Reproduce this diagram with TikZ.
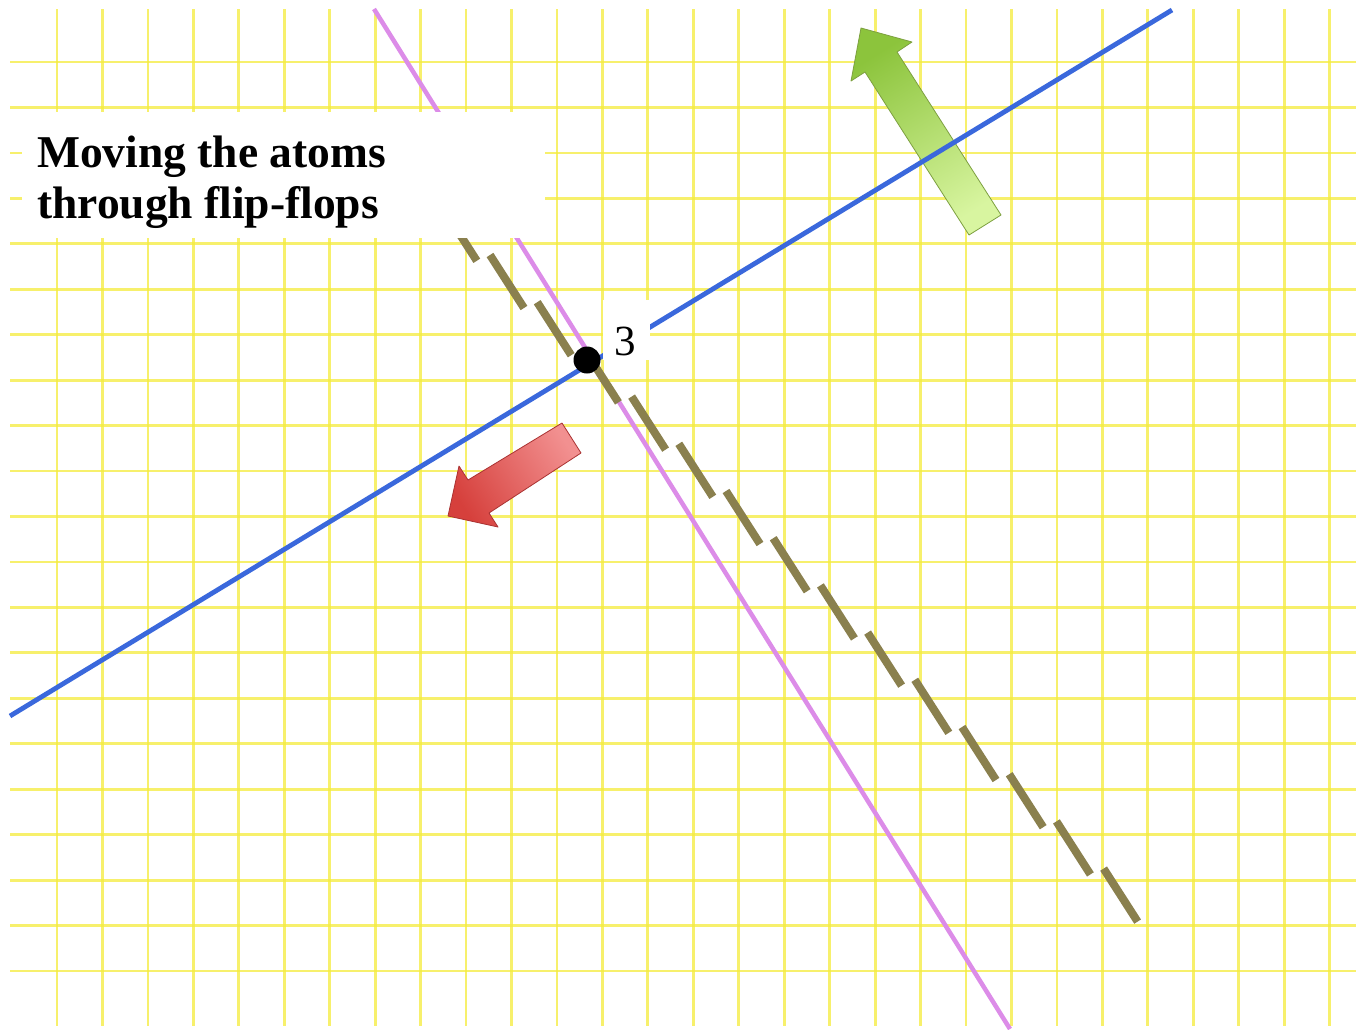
\documentclass[tikz,border=0pt]{standalone}
\usepackage{fontspec}
\setmainfont{Liberation Serif}
\definecolor{gridyellow}{RGB}{245,236,60}
\definecolor{lineblue}{RGB}{58,104,220}
\definecolor{linepink}{RGB}{220,140,232}
\definecolor{dasholive}{RGB}{138,128,78}
\definecolor{greendark}{RGB}{140,196,60}
\definecolor{greenlight}{RGB}{216,245,160}
\definecolor{greenedge}{RGB}{125,160,64}
\definecolor{reddark}{RGB}{214,64,60}
\definecolor{redlight}{RGB}{242,144,144}
\definecolor{rededge}{RGB}{170,50,50}
\begin{document}
\begin{tikzpicture}[x=1pt,y=-1pt,
  gridline/.style={draw=gridyellow, line width=2.8pt, opacity=0.75},
  blueline/.style={draw=lineblue, line width=4.8pt},
  pinkline/.style={draw=linepink, line width=4.5pt},
  dashseg/.style={draw=dasholive, line width=8pt, line cap=butt},
  greenarrow/.style={draw=greenedge, line width=0.8pt, line join=round, top color=greendark, bottom color=greenlight, shading angle=32},
  redarrow/.style={draw=rededge, line width=0.8pt, line join=round, top color=reddark, bottom color=redlight, shading angle=122},
  whitebox/.style={fill=white, draw=none, inner sep=0pt},
  titletext/.style={font=\fontsize{45.5}{50}\selectfont\bfseries, inner sep=0pt, anchor=base west},
  labeltext/.style={font=\fontsize{43}{48}\selectfont, inner sep=0pt, anchor=base}
]
\useasboundingbox (0,0) rectangle (1362,1029);
\fill[white] (0,0) rectangle (1362,1029);
% grid
\foreach \i in {0,...,28} \draw[gridline] ({57+45.45*\i},9) -- ({57+45.45*\i},1026);
\foreach \j in {0,...,20} \draw[gridline] (10,{62+45.45*\j}) -- (1356,{62+45.45*\j});
% pink line
\coordinate (pinkA) at (374,9);
\coordinate (pinkB) at (1010,1029);
\draw[pinkline] (pinkA) -- (pinkB);
% dashed olive line (tilted dashes)
\foreach \k in {-1,...,13} \draw[dashseg] ({490+47.2*\k},{255+47.2*\k}) -- ++(34,53);
% green arrow
\path[greenarrow] (969,235) -- (865,72) -- (851,81) -- (861,28) -- (912,42) -- (897,52) -- (1001,215) -- cycle;
% red arrow
\path[redarrow] (562,423) -- (468,480) -- (459,466) -- (448,516) -- (498,527) -- (489,513) -- (581,453) -- cycle;
% blue line
\coordinate (blueA) at (10,716);
\coordinate (blueB) at (1172,10);
\draw[blueline] (blueA) -- (blueB);
% title box
\node[whitebox, anchor=north west, minimum width=523pt, minimum height=126pt] (titlebox) at (22,112) {};
\node[titletext] (title1) at (37,167) {Moving the atoms};
\node[titletext] (title2) at (37,218) {through flip-flops};
% label box and dot
\node[whitebox, minimum width=47pt, minimum height=60pt] (labbox) at (626.5,330) {};
\node[circle, fill=black, minimum size=27pt, inner sep=0pt] (dot) at (587,360) {};
\node[labeltext] (lab3) at (625,355) {3};
\end{tikzpicture}
\end{document}
